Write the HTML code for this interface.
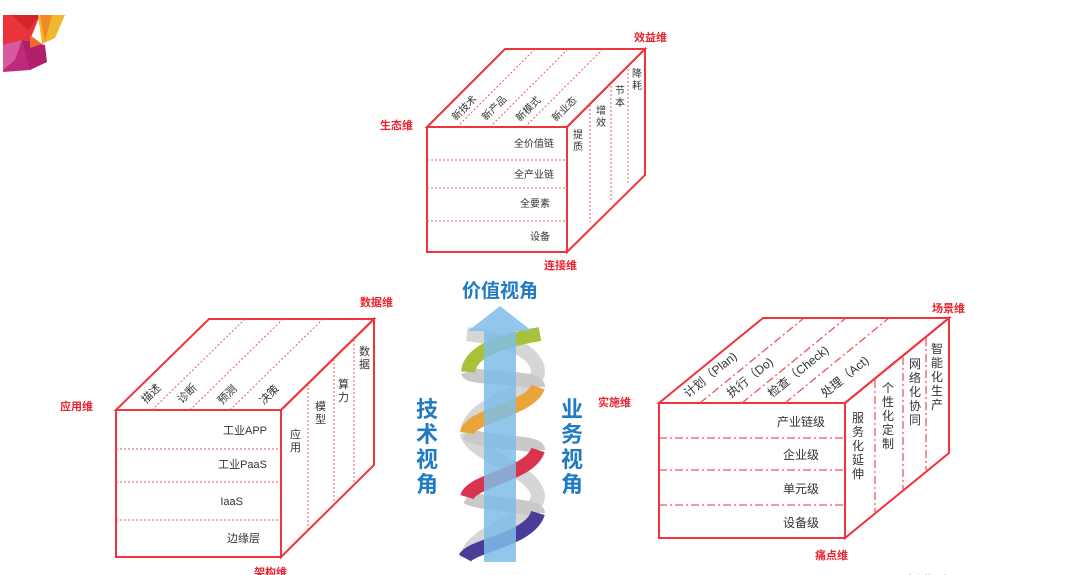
<!DOCTYPE html>
<html><head><meta charset="utf-8"><style>
html,body{margin:0;padding:0;background:#fff;}
svg{display:block;}
text{font-family:"Liberation Sans","Noto Sans CJK SC",sans-serif;}
.lb{fill:#e8232f;font-size:11px;font-weight:bold;}
.t{fill:#333;font-size:11px;}
.e{stroke:#f0333d;stroke-width:2;fill:none;}
.d{stroke:#f05560;stroke-width:1;stroke-dasharray:2,2;fill:none;}
.dd{stroke:#f05560;stroke-width:1.3;stroke-dasharray:8,3,2,3;fill:none;}
.bl{fill:#1f7bc4;font-weight:bold;}
</style></head><body>
<svg width="1080" height="575" viewBox="0 0 1080 575" xmlns="http://www.w3.org/2000/svg">
<!-- logo -->
<polygon points="3,15 40,15 30,40 3,45" fill="#e8343a"/>
<polygon points="12,15 40,15 28,30" fill="#d4252c"/>
<polygon points="38,15 65,15 55,38 42,44" fill="#f0b82c"/>
<polygon points="40,15 52,15 45,42" fill="#f08a28"/>
<polygon points="3,45 30,40 45,55 30,70 3,72" fill="#c0287a"/>
<polygon points="22,40 45,45 47,62 30,70" fill="#b0206a"/>
<polygon points="3,45 22,40 15,60 3,70" fill="#d55aa0"/>
<polygon points="30,35 42,44 30,48" fill="#f06a30"/>

<!-- TOP CUBE -->
<polygon points="427,127 505,49 645,49 567,127" fill="#fff" class="e"/>
<rect x="427" y="127" width="140" height="125" class="e"/>
<polygon points="567,127 645,49 645,175 567,252" class="e"/>
<line x1="427" y1="160" x2="567" y2="160" class="d"/>
<line x1="427" y1="188" x2="567" y2="188" class="d"/>
<line x1="427" y1="221" x2="567" y2="221" class="d"/>
<line x1="457" y1="127" x2="535" y2="49" class="d"/>
<line x1="490" y1="127" x2="568" y2="49" class="d"/>
<line x1="525" y1="127" x2="603" y2="49" class="d"/>
<line x1="590" y1="105" x2="590" y2="222" class="d"/>
<line x1="611" y1="86" x2="611" y2="202" class="d"/>
<line x1="628" y1="69" x2="628" y2="185" class="d"/>
<g class="t" font-size="10">
<text x="554" y="147" text-anchor="end" font-size="10">全价值链</text>
<text x="554" y="178" text-anchor="end" font-size="10">全产业链</text>
<text x="550" y="207" text-anchor="end" font-size="10">全要素</text>
<text x="550" y="240" text-anchor="end" font-size="10">设备</text>
<text transform="translate(456,121) rotate(-45)" font-size="10">新技术</text>
<text transform="translate(486,121) rotate(-45)" font-size="10">新产品</text>
<text transform="translate(520,122) rotate(-45)" font-size="10">新模式</text>
<text transform="translate(556,122) rotate(-45)" font-size="10">新业态</text>
<text x="573" y="138" font-size="10">提</text><text x="573" y="150" font-size="10">质</text>
<text x="596" y="114" font-size="10">增</text><text x="596" y="126" font-size="10">效</text>
<text x="615" y="94" font-size="10">节</text><text x="615" y="106" font-size="10">本</text>
<text x="632" y="77" font-size="10">降</text><text x="632" y="89" font-size="10">耗</text>
</g>
<text x="380" y="129" class="lb">生态维</text>
<text x="634" y="41" class="lb">效益维</text>
<text x="544" y="269" class="lb">连接维</text>

<!-- LEFT CUBE -->
<polygon points="116,410 209,319 374,319 281,410" fill="#fff" class="e"/>
<rect x="116" y="410" width="165" height="147" class="e"/>
<polygon points="281,410 374,319 374,465 281,557" class="e"/>
<line x1="116" y1="449" x2="281" y2="449" class="d"/>
<line x1="116" y1="482" x2="281" y2="482" class="d"/>
<line x1="116" y1="520" x2="281" y2="520" class="d"/>
<line x1="152" y1="410" x2="245" y2="319" class="d"/>
<line x1="190" y1="410" x2="283" y2="319" class="d"/>
<line x1="230" y1="410" x2="323" y2="319" class="d"/>
<line x1="308" y1="384" x2="308" y2="530" class="d"/>
<line x1="334" y1="359" x2="334" y2="505" class="d"/>
<line x1="354" y1="340" x2="354" y2="485" class="d"/>
<g class="t">
<text x="267" y="434" text-anchor="end">工业APP</text>
<text x="267" y="468" text-anchor="end">工业PaaS</text>
<text x="243" y="505" text-anchor="end">IaaS</text>
<text x="260" y="542" text-anchor="end">边缘层</text>
<text transform="translate(146,404) rotate(-45)">描述</text>
<text transform="translate(182,404) rotate(-45)">诊断</text>
<text transform="translate(222,405) rotate(-45)">预测</text>
<text transform="translate(264,405) rotate(-45)">决策</text>
<text x="290" y="438">应</text><text x="290" y="451">用</text>
<text x="315" y="410">模</text><text x="315" y="423">型</text>
<text x="338" y="388">算</text><text x="338" y="401">力</text>
<text x="359" y="355">数</text><text x="359" y="368">据</text>
</g>
<text x="60" y="410" class="lb">应用维</text>
<text x="360" y="306" class="lb">数据维</text>
<text x="254" y="576" class="lb">架构维</text>

<!-- RIGHT CUBE -->
<polygon points="659,403 763,318 949,318 845,403" fill="#fff" class="e"/>
<rect x="659" y="403" width="186" height="135" class="e"/>
<polygon points="845,403 949,318 949,453 845,538" class="e"/>
<line x1="659" y1="438" x2="845" y2="438" class="dd"/>
<line x1="659" y1="470" x2="845" y2="470" class="dd"/>
<line x1="659" y1="505" x2="845" y2="505" class="dd"/>
<line x1="700" y1="403" x2="804" y2="318" class="dd"/>
<line x1="742" y1="403" x2="846" y2="318" class="dd"/>
<line x1="785" y1="403" x2="889" y2="318" class="dd"/>
<line x1="875" y1="380" x2="875" y2="512" class="dd"/>
<line x1="903" y1="357" x2="903" y2="490" class="dd"/>
<line x1="926" y1="338" x2="926" y2="470" class="dd"/>
<g class="t" font-size="12">
<text x="825" y="426" text-anchor="end" font-size="12">产业链级</text>
<text x="819" y="459" text-anchor="end" font-size="12">企业级</text>
<text x="819" y="493" text-anchor="end" font-size="12">单元级</text>
<text x="819" y="527" text-anchor="end" font-size="12">设备级</text>
<text transform="translate(688,398) rotate(-39)" font-size="12">计划（Plan)</text>
<text transform="translate(731,398) rotate(-39)" font-size="12">执行（Do)</text>
<text transform="translate(772,398) rotate(-39)" font-size="12">检查（Check)</text>
<text transform="translate(825,398) rotate(-39)" font-size="12">处理（Act)</text>
<g font-size="12">
<text x="852" y="422">服</text><text x="852" y="436">务</text><text x="852" y="450">化</text><text x="852" y="464">延</text><text x="852" y="478">伸</text>
<text x="882" y="392">个</text><text x="882" y="406">性</text><text x="882" y="420">化</text><text x="882" y="434">定</text><text x="882" y="448">制</text>
<text x="909" y="368">网</text><text x="909" y="382">络</text><text x="909" y="396">化</text><text x="909" y="410">协</text><text x="909" y="424">同</text>
<text x="931" y="353">智</text><text x="931" y="367">能</text><text x="931" y="381">化</text><text x="931" y="395">生</text><text x="931" y="409">产</text>
</g>
</g>
<text x="598" y="406" class="lb" font-size="12">实施维</text>
<text x="932" y="312" class="lb" font-size="12">场景维</text>
<text x="815" y="559" class="lb" font-size="12">痛点维</text>
<text x="905" y="584" class="lb" font-size="24">案例解读</text>

<!-- CENTER HELIX -->
<g fill="none" stroke-width="14" stroke-linecap="butt">
<path d="M467,334 C500,338 538,350 538,372 C538,392 470,400 467,433 M467,433 C470,455 538,470 538,497 C536,520 470,530 467,558" stroke="#d6d6d6"/>
<path d="M468,372 C470,380 538,375 538,387 M467,433 C480,445 538,440 538,450 M467,497 C480,505 538,505 538,513" stroke="#c9c9c9"/>
<path d="M540,334 C505,340 470,350 468,372" stroke="#a7c23a"/>
<path d="M538,387 C530,410 470,415 467,433" stroke="#e9a53a"/>
<path d="M538,450 C530,475 472,480 467,497" stroke="#d8344f"/>
<path d="M538,513 C530,540 472,545 465,558" stroke="#4a3d98"/>
</g>
<polygon points="500,306 532,331 516,331 516,562 484,562 484,331 468,331" fill="#7fbde8" opacity="0.85"/>
<text x="500" y="297" text-anchor="middle" class="bl" font-size="19">价值视角</text>
<g class="bl" font-size="22" text-anchor="middle">
<text x="427" y="417">技</text><text x="427" y="442">术</text><text x="427" y="467">视</text><text x="427" y="492">角</text>
<text x="572" y="417">业</text><text x="572" y="442">务</text><text x="572" y="467">视</text><text x="572" y="492">角</text>
</g>
</svg>
</body></html>
